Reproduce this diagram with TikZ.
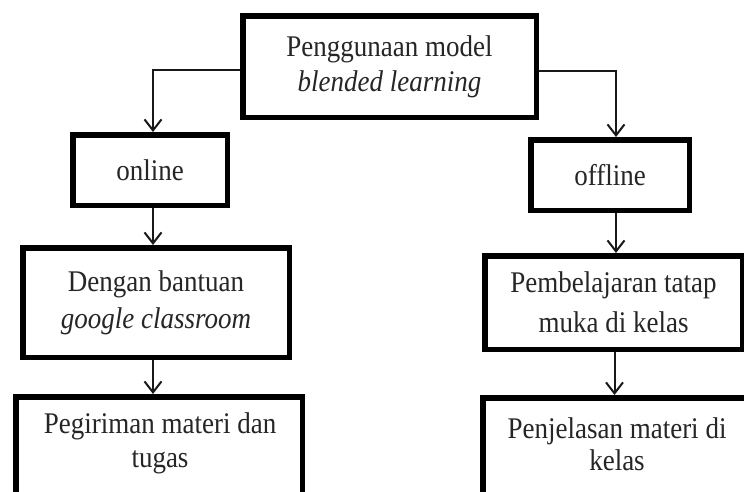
\documentclass[tikz,border=0pt]{standalone}
\usepackage{fontspec}
\setmainfont{Liberation Serif}[FakeStretch=0.9]
\usetikzlibrary{arrows.meta}
\begin{document}
\begin{tikzpicture}[x=1pt,y=-1pt,
  box/.style={draw=black, line width=5.5pt, fill=white, anchor=north west,
    inner sep=0pt, align=center, text=black!85, font=\fontsize{30}{35}\selectfont},
  txt/.style={inner sep=0pt, align=center, text=black!85},
  conn/.style={draw=black!90, line width=2pt, -{Straight Barb[length=11pt,width=17pt,line width=2pt]}}
]
\useasboundingbox (0,0) rectangle (744,491);
\fill[white] (0,0) rectangle (744,491);
\begin{scope}
\clip (0,0) rectangle (744,491);
% boxes
\node[box, minimum width=293.5pt, minimum height=101.5pt] (top) at (240,13)
  {Penggunaan model\\\textit{blended learning}};
\node[box, minimum width=154.5pt, minimum height=70.5pt] (online) at (70,132) {online};
\node[box, minimum width=158.5pt, minimum height=70.5pt] (offline) at (528,137) {offline};
\node[box, minimum width=266.5pt, minimum height=109.5pt, font=\fontsize{30}{37}\selectfont] (dengan) at (20,245)
  {Dengan bantuan\\\textit{google classroom}};
\node[box, minimum width=257.5pt, minimum height=93.5pt, font=\fontsize{30}{40}\selectfont] (pem) at (482,253)
  {Pembelajaran tatap\\muka di kelas};
\node[box, minimum width=286.5pt, minimum height=200pt] (peg) at (13,394) {};
\node[box, minimum width=300pt, minimum height=200pt] (penj) at (480,395) {};
\node[txt, font=\fontsize{30}{34}\selectfont] (pegt) at (160,443) {Pegiriman materi dan\\tugas};
\node[txt, font=\fontsize{30}{32}\selectfont] (penjt) at (617,444) {Penjelasan materi di\\kelas};
% connectors
\draw[conn] ([yshift=-3pt]top.west) -| ([xshift=3pt]online.north);
\draw[conn] ([yshift=-4pt]top.east) -| ([xshift=6pt]offline.north);
\draw[conn] ([xshift=3pt]online.south) -- ([xshift=3pt]online.south |- dengan.north);
\draw[conn] ([xshift=-3pt]dengan.south) -- ([xshift=-3pt]dengan.south |- peg.north);
\draw[conn] ([xshift=6pt]offline.south) -- ([xshift=6pt]offline.south |- pem.north);
\draw[conn] ([xshift=1pt]pem.south) -- ([xshift=1pt]pem.south |- penj.north);
\end{scope}
\end{tikzpicture}
\end{document}
